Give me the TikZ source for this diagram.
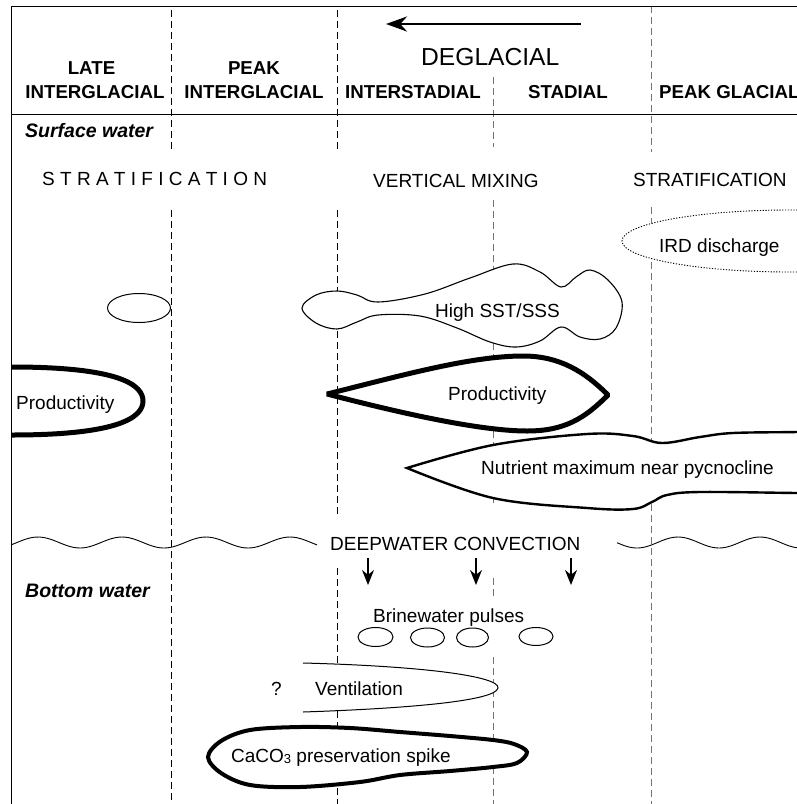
\documentclass[tikz,border=0pt]{standalone}
\usepackage{fontspec}
\setmainfont{Liberation Sans}
\usetikzlibrary{arrows.meta}
\begin{document}
\begin{tikzpicture}[x=1pt,y=-1pt,
  lbl/.style={anchor=base west,inner sep=0pt,font=\fontsize{19}{22}\selectfont},
  hdr/.style={anchor=base,inner sep=0pt,font=\fontsize{18.7}{21}\selectfont\bfseries},
  zone/.style={anchor=base west,inner sep=0pt,font=\fontsize{19.5}{22}\selectfont\bfseries\itshape},
  vline/.style={line width=1pt,dash pattern=on 6.5pt off 4.5pt},
  vlineg/.style={vline,draw=black!55},
  thinshape/.style={draw=black,line width=1pt,fill=white},
  medshape/.style={draw=black,line width=2.4pt,fill=white},
  thickshape/.style={draw=black,line width=5pt,fill=white},
  wave/.style={line width=0.9pt},
  downarrow/.style={line width=1.7pt,-{Stealth[length=15pt,width=12pt]}},
]
\useasboundingbox (0,0) rectangle (797,804);
\clip (0,0) rectangle (797,804);

% dashed period boundaries
\draw[vline] (171,10) -- (171,150);
\draw[vline] (171,210) -- (171,804);
\draw[vline] (337,10) -- (337,150);
\draw[vline] (337,210) -- (337,517);
\draw[vline] (337,568) -- (337,804);
\draw[vlineg] (493,77) -- (493,147);
\draw[vlineg] (493,200) -- (493,503);
\draw[vlineg] (493,578) -- (493,597);
\draw[vlineg] (493,657) -- (493,804);
\draw[vlineg] (651,6) -- (651,152);
\draw[vlineg] (651,207) -- (651,804);

% deglacial arrow
\coordinate (dgs) at (581,24);
\coordinate (dge) at (386,24);
\draw[line width=2.8pt,-{Stealth[length=21pt,width=15pt]}] (dgs) -- (dge);
\node[lbl,font=\fontsize{24.6}{28}\selectfont] (deglacial) at (421,65) {DEGLACIAL};

% headers
\node[hdr] (late) at (91.5,74) {LATE};
\node[hdr] (lateig) at (95,98) {INTERGLACIAL};
\node[hdr] (peak) at (254,74) {PEAK};
\node[hdr] (peakig) at (254,98) {INTERGLACIAL};
\node[hdr] (interst) at (413,98) {INTERSTADIAL};
\node[hdr] (stadial) at (568,98) {STADIAL};
\node[hdr,anchor=base west] (peakgl) at (659,98) {PEAK GLACIAL};

% surface water
\node[zone] (surface) at (25,137) {Surface water};
\node[lbl] (strat1) at (42,185) {S T R A T I F I C A T I O N};
\node[lbl] (vmix) at (373,187) {VERTICAL MIXING};
\node[lbl] (strat2) at (633,186) {STRATIFICATION};

% IRD discharge
\draw[line width=0.9pt,dash pattern=on 1.2pt off 1.6pt,fill=white] (790,241) ellipse [x radius=168pt, y radius=31pt];
\node[lbl] (ird) at (659,252) {IRD discharge};

% small ellipse
\draw[thinshape] (139,308) ellipse [x radius=31.5pt, y radius=14.5pt];

% High SST/SSS blob
\draw[thinshape,line width=1.1pt] plot[smooth cycle,tension=0.6] coordinates {
 (302,308) (316,295) (337,291) (357,295) (378,302) (425,294) (470,278) (513,264)
 (540,272) (561,287) (576,277) (590,270) (608,280) (622,302) (616,328) (600,339)
 (580,337) (561,327) (540,341) (516,347) (490,342) (457,328) (420,316) (378,315)
 (357,322) (337,329) (316,323)};
\node[lbl] (sst) at (435,317) {High SST/SSS};

% Productivity left
\draw[thickshape] (12,367) .. controls (120,367) and (143,385) .. (143,401)
  .. controls (143,417) and (120,435) .. (12,435);
\node[lbl] (prodl) at (16,409) {Productivity};

% Productivity right
\draw[thickshape,line join=bevel] (327,394) .. controls (400,376) and (470,356) .. (523,356)
  .. controls (560,356) and (585,372) .. (608,395)
  .. controls (585,418) and (565,431) .. (527,431)
  .. controls (480,431) and (400,413) .. (327,394) -- cycle;
\node[lbl] (prodr) at (448,400) {Productivity};

% Nutrient maximum
\draw[medshape] plot[smooth,tension=0.6] coordinates {
 (815,431) (797,432) (733,433) (700,437) (662,443) (633,436) (587,434) (493,445) (407,468)}
 -- plot[smooth,tension=0.6] coordinates {
 (407,468) (493,498) (587,508) (633,509) (652,502) (667,495) (700,492) (797,493) (815,493)} -- cycle;
\node[lbl] (nutr) at (481,474) {Nutrient maximum near pycnocline};

% deepwater convection
\draw[wave] plot[domain=12:317,samples=90,smooth] (\x,{542.5-5.5*cos(4.2857*(\x-38))});
\draw[wave] plot[domain=617:800,samples=60,smooth] (\x,{542.5+5.5*cos(4.3902*(\x-637))});
\node[lbl] (deep) at (330,550) {DEEPWATER CONVECTION};
\coordinate (a1s) at (368,558); \coordinate (a1e) at (368,585);
\coordinate (a2s) at (476,558); \coordinate (a2e) at (476,585);
\coordinate (a3s) at (571,558); \coordinate (a3e) at (571,585);
\draw[downarrow] (a1s) -- (a1e);
\draw[downarrow] (a2s) -- (a2e);
\draw[downarrow] (a3s) -- (a3e);

% bottom water
\node[zone] (bottom) at (25,597) {Bottom water};
\node[lbl] (brine) at (373,622) {Brinewater pulses};
\draw[thinshape] (375.5,637) ellipse [x radius=17.5pt, y radius=9.5pt];
\draw[thinshape] (427.5,637.5) ellipse [x radius=17pt, y radius=9.5pt];
\draw[thinshape] (472.5,637.5) ellipse [x radius=16pt, y radius=9.5pt];
\draw[thinshape] (536,636.5) ellipse [x radius=17pt, y radius=9pt];

% ventilation
\draw[thinshape] (303,663) .. controls (420,666) and (500,676) .. (498,688)
  .. controls (496,700) and (420,708) .. (303,712);
\node[lbl] (q) at (271,695) {?};
\node[lbl] (vent) at (315,695) {Ventilation};

% CaCO3 spike
\draw[thickshape,line width=4pt] plot[smooth cycle,tension=0.55] coordinates {
 (208,757) (221,741) (250,730) (300,727) (350,728) (400,732) (450,736) (493,740)
 (514,744) (527,752) (517,763) (493,767) (450,771) (400,775) (360,782) (300,787)
 (250,785) (221,773)};
\node[lbl] (caco) at (231,762) {CaCO{\fontsize{13}{13}\selectfont\raisebox{-1pt}{3}} preservation spike};

% frame
\draw[line width=1pt] (11.5,114) -- (797,114);
\draw[line width=1.6pt] (11.5,804) -- (11.5,6.5) -- (800,6.5);
\end{tikzpicture}
\end{document}
